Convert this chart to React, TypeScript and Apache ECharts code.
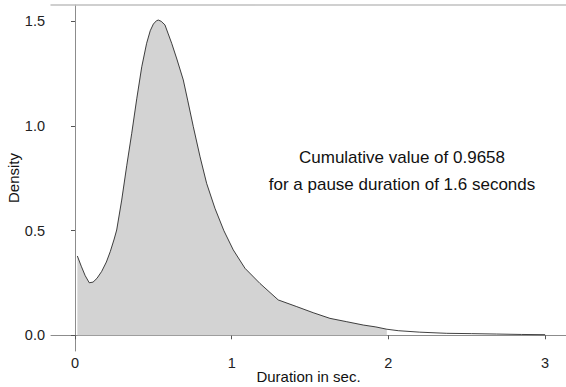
import React, { useEffect, useRef } from "react";
import * as echarts from "echarts";

const durations = [
  0.015, 0.04, 0.065, 0.091, 0.115, 0.14, 0.17, 0.2, 0.225, 0.25, 0.266, 0.298, 0.33, 0.362, 0.394,
  0.426, 0.457, 0.48, 0.5, 0.52, 0.532, 0.55, 0.574, 0.595, 0.617, 0.65, 0.691, 0.72, 0.755, 0.798,
  0.84, 0.893, 0.95, 1.01, 1.085, 1.18, 1.297, 1.415, 1.52, 1.627, 1.734, 1.84, 1.92, 1.99, 2.063,
  2.2, 2.372, 2.53, 2.69, 2.85, 3.0,
];
const densities = [
  0.379, 0.33, 0.285, 0.251, 0.254, 0.272, 0.305, 0.35, 0.4, 0.46, 0.503, 0.646, 0.81, 0.965, 1.13,
  1.283, 1.395, 1.455, 1.487, 1.503, 1.506, 1.5, 1.483, 1.44, 1.395, 1.32, 1.22, 1.12, 0.997, 0.853,
  0.726, 0.607, 0.5, 0.408, 0.32, 0.248, 0.169, 0.137, 0.108, 0.081, 0.065, 0.049, 0.04, 0.029, 0.022,
  0.015, 0.0095, 0.008, 0.006, 0.004, 0.003,
];
const shadeLimit = 1.99;
const xTicks = [0, 1, 2, 3];
const yTicks = [0, 0.5, 1, 1.5];
const xTitle = "Duration in sec.";
const yTitle = "Density";
const noteLines = ["Cumulative value of 0.9658", "for a pause duration of 1.6 seconds"];

const FONT = "'Liberation Sans', Arial, Helvetica, sans-serif";

export default function App() {
  const ref = useRef<HTMLDivElement>(null);
  useEffect(() => {
    if (!ref.current) return;
    const chart = echarts.init(ref.current, undefined, { renderer: "svg" });
    const lineData = durations.map((d, i) => [d, densities[i]]);
    const fillData = lineData.filter((p) => p[0] <= shadeLimit);
    chart.setOption({
      animation: false,
      backgroundColor: "#ffffff",
      textStyle: { fontFamily: FONT },
      grid: { left: 51, top: 5, right: 0, bottom: 36, containLabel: false, outerBoundsMode: "none" },
      xAxis: [
        {
          type: "value",
          min: -0.1532,
          max: 3.1334,
          name: xTitle,
          nameLocation: "middle",
          nameGap: 18,
          nameMoveOverlap: false,
          nameTextStyle: { fontSize: 15, color: "#111", fontFamily: FONT, verticalAlign: "top" },
          axisLine: { show: true, lineStyle: { color: "#8c8c8c", width: 1 } },
          axisTick: { show: true, length: 4, customValues: xTicks, lineStyle: { color: "#555" } },
          axisLabel: {
            customValues: xTicks,
            fontSize: 14.5,
            color: "#222",
            fontFamily: FONT,
            margin: 4,
            formatter: (v: number) => String(v),
          },
          splitLine: { show: false },
        },
        {
          type: "value",
          position: "top",
          min: -0.1532,
          max: 3.1334,
          axisLine: { show: true, lineStyle: { color: "#c0c0c0", width: 1.5 } },
          axisTick: { show: false },
          axisLabel: { show: false },
          splitLine: { show: false },
        },
      ],
      yAxis: {
        type: "value",
        min: -0.075,
        max: 1.578,
        name: yTitle,
        nameLocation: "middle",
        nameGap: 30,
        nameRotate: 90,
        nameMoveOverlap: false,
        nameTextStyle: { fontSize: 15, color: "#111", fontFamily: FONT },
        axisLine: { show: true, lineStyle: { color: "#8c8c8c", width: 1 } },
        axisTick: { show: true, length: 4, customValues: yTicks, lineStyle: { color: "#555" } },
        axisLabel: {
          customValues: yTicks,
          fontSize: 14.5,
          color: "#222",
          fontFamily: FONT,
          margin: 6,
          formatter: (v: number) => v.toFixed(1),
        },
        splitLine: { show: false },
      },
      series: [
        {
          type: "line",
          data: fillData,
          showSymbol: false,
          symbol: "none",
          lineStyle: { width: 0, opacity: 0 },
          areaStyle: { color: "#d3d3d3", opacity: 1, origin: 0 },
          z: 1,
          silent: true,
        },
        {
          type: "line",
          data: lineData,
          showSymbol: false,
          symbol: "none",
          lineStyle: { color: "#111", width: 0.8 },
          z: 2,
          silent: true,
        },
      ],
      graphic: [
        {
          type: "text",
          x: 402,
          y: 171,
          style: {
            text: noteLines.join("\n"),
            fontSize: 17,
            lineHeight: 27,
            fontFamily: FONT,
            fill: "#111",
            align: "center",
            verticalAlign: "middle",
          },
        },
      ],
    });
    return () => chart.dispose();
  }, []);
  return (
    <div
      ref={ref}
      style={{ position: "fixed", left: 0, top: 0, width: 566, height: 387, background: "#fff" }}
    />
  );
}
